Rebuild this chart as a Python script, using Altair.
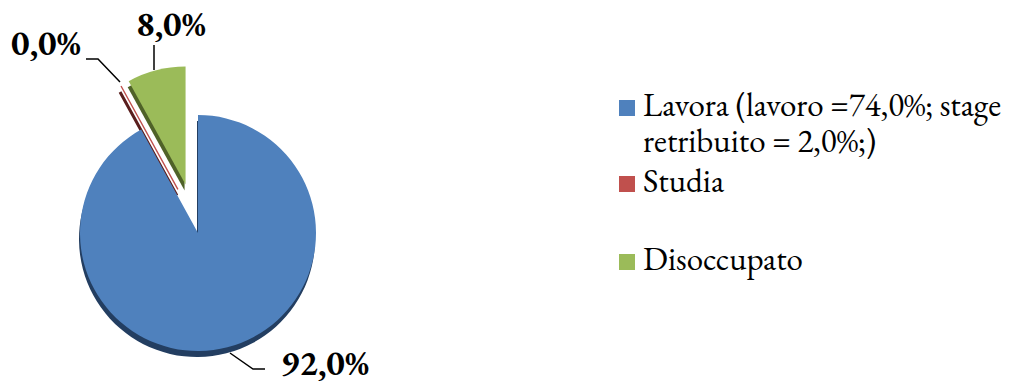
import altair as alt
import pandas as pd

# ---- data ----
categories = ["Lavora (lavoro =74,0%; stage retribuito = 2,0%;)", "Studia", "Disoccupato"]
values = [92.0, 0.0, 8.0]

# ---- styles / layout ----
colors = ["#4F81BD", "#C0504D", "#9BBB59"]
shadow_colors = ["#233E61", "#5A1E1D", "#4F6228"]
CX, CY, R = 198, 233, 118
explode = [0, 48, 50]
explode_tilt = [0, 0.07, 0]
legend_y = [116, 192, 270]
label_cx = [325, 46, 171]
label_y = [375, 55, 36]
leaders = {
    0: [(230, 353), (253, 369), (265, 369)],
    1: [(86, 59), (98, 59), (120, 82)],
    2: [(154, 45), (154, 70)],
}
FONT = "EB Garamond"

df = pd.DataFrame({
    "cat": categories,
    "value": values,
    "idx": list(range(len(categories))),
    "color": colors,
    "shadow": shadow_colors,
    "explode": explode,
    "tilt": explode_tilt,
    "lx": label_cx,
    "ly": label_y,
    "legy": legend_y,
})

lead_rows = []
for i, pts in leaders.items():
    for k, (px, py) in enumerate(pts):
        lead_rows.append({"idx": i, "ord": k, "px": px, "py": py})
lead_df = pd.DataFrame(lead_rows)

base = (
    alt.Chart(df)
    .transform_window(cum="sum(value)", sort=[alt.SortField("idx")], frame=[None, 0])
    .transform_joinaggregate(total="sum(value)")
    .transform_calculate(
        t0="(datum.cum - datum.value) / datum.total * 2 * PI",
        t1="datum.cum / datum.total * 2 * PI",
    )
    .transform_calculate(mid="(datum.t0 + datum.t1) / 2 + datum.tilt")
    .transform_calculate(
        cx=f"{CX} + datum.explode * sin(datum.mid)",
        cy=f"{CY} - datum.explode * cos(datum.mid)",
    )
)

arc_enc = dict(
    theta=alt.Theta("t0:Q", scale=None, stack=False),
    theta2="t1:Q",
    x=alt.X("cx:Q", scale=None, axis=None),
    y=alt.Y("cy:Q", scale=None, axis=None),
)

shadow = base.mark_arc(radius=R, yOffset=6, xOffset=-1).encode(
    fill=alt.Fill("shadow:N", scale=None),
    stroke=alt.Stroke("shadow:N", scale=None),
    strokeWidth=alt.condition("datum.value == 0", alt.value(3), alt.value(0)),
    **arc_enc,
)

main = base.mark_arc(radius=R).encode(
    fill=alt.Fill("color:N", scale=None),
    stroke=alt.Stroke("color:N", scale=None),
    strokeWidth=alt.condition("datum.value == 0", alt.value(1.4), alt.value(0)),
    **arc_enc,
)

value_labels = (
    alt.Chart(df)
    .transform_calculate(lab="replace(format(datum.value, '.1f'), '.', ',') + '%'")
    .mark_text(align="center", baseline="alphabetic", font=FONT,
               fontSize=35, fontWeight="bold", color="black")
    .encode(
        x=alt.X("lx:Q", scale=None, axis=None),
        y=alt.Y("ly:Q", scale=None, axis=None),
        text="lab:N",
    )
)

leader_lines = (
    alt.Chart(lead_df)
    .mark_line(color="black", strokeWidth=1.5)
    .encode(
        x=alt.X("px:Q", scale=None, axis=None),
        y=alt.Y("py:Q", scale=None, axis=None),
        detail="idx:N",
        order="ord:Q",
    )
)

legend_sq = (
    alt.Chart(df)
    .mark_square(size=256, filled=True, yOffset=-8, opacity=1)
    .encode(
        x=alt.value(627),
        y=alt.Y("legy:Q", scale=None, axis=None),
        fill=alt.Fill("color:N", scale=None),
    )
)

legend_txt = (
    alt.Chart(df)
    .transform_calculate(lt="replace(datum.cat, ' retribuito', '|retribuito')")
    .mark_text(align="left", baseline="alphabetic", font=FONT,
               fontSize=33, color="black", lineBreak="|", lineHeight=36)
    .encode(
        x=alt.value(643),
        y=alt.Y("legy:Q", scale=None, axis=None),
        text="lt:N",
    )
)

chart = (
    alt.layer(shadow, main, leader_lines, value_labels, legend_sq, legend_txt)
    .properties(width=1011, height=383, padding=0, autosize=alt.AutoSizeParams(type="none"),
                background="white")
    .configure_view(strokeWidth=0)
)

chart.save("out.html", embed_options={"renderer": "svg", "actions": False})
